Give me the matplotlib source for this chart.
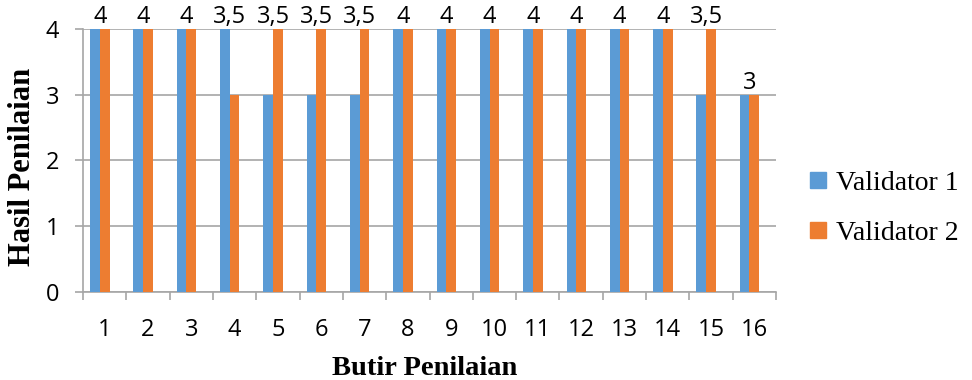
import matplotlib
matplotlib.use("Agg")
import matplotlib.pyplot as plt
from matplotlib.lines import Line2D
import numpy as np

# ---- data ----
butir = [str(i) for i in range(1, 17)]
validator_1 = [4, 4, 4, 4, 3, 3, 3, 4, 4, 4, 4, 4, 4, 4, 3, 3]
validator_2 = [4, 4, 4, 3, 4, 4, 4, 4, 4, 4, 4, 4, 4, 4, 4, 3]
rata_rata = [4, 4, 4, 3.5, 3.5, 3.5, 3.5, 4, 4, 4, 4, 4, 4, 4, 3.5, 3]
series_names = ["Validator 1", "Validator 2"]
y_ticks = [0, 1, 2, 3, 4]

BLUE = "#5B9BD5"
ORANGE = "#ED7D31"
GRID = "#A6A6A6"
NUM_FONT = ["Open Sans", "DejaVu Sans"]
SERIF = ["Liberation Serif", "DejaVu Serif"]
NUM_SIZE = 17

fig = plt.figure(figsize=(9.72, 3.80), dpi=100)
ax = fig.add_axes([83 / 972, 1 - 292 / 380, (776 - 83) / 972, (292 - 29) / 380])

x = np.arange(1, len(butir) + 1)
w = 0.224
ax.bar(x - w, validator_1, width=w, color=BLUE, edgecolor="none", zorder=3)
ax.bar(x, validator_2, width=w, color=ORANGE, edgecolor="none", zorder=3)

# data labels (average) above the pair
for xi, a, b, avg in zip(x, validator_1, validator_2, rata_rata):
    txt = f"{avg:g}".replace(".", ",")
    ax.text(xi - w / 2, max(a, b), txt, ha="center", va="bottom",
            fontsize=NUM_SIZE, family=NUM_FONT, color="black", zorder=4,
            clip_on=False)

ax.set_xlim(0.5, len(butir) + 0.5)
ax.set_ylim(0, 4)
ax.set_yticks(y_ticks)
ax.set_yticklabels([str(t) for t in y_ticks], family=NUM_FONT, fontsize=NUM_SIZE)
ax.yaxis.grid(True, color=GRID, linewidth=1.2, zorder=0)
ax.set_axisbelow(True)

ax.set_xticks(x)
ax.set_xticklabels(butir, family=NUM_FONT, fontsize=NUM_SIZE)
ax.set_xticks(np.arange(0.5, len(butir) + 1.0, 1.0), minor=True)
ax.tick_params(axis="x", which="major", length=0, pad=19)
ax.tick_params(axis="x", which="minor", length=6, width=1.2, color=GRID, direction="out")
ax.tick_params(axis="y", length=6, width=1.2, color=GRID, pad=11)

for s in ["top", "right"]:
    ax.spines[s].set_visible(False)
for s in ["left", "bottom"]:
    ax.spines[s].set_color(GRID)
    ax.spines[s].set_linewidth(1.2)

fig.text(425 / 972, 1 - 375 / 380, "Butir Penilaian", ha="center", va="baseline",
         fontsize=20.5, fontweight="bold", family=SERIF)
fig.text(22.5 / 972, 1 - 167 / 380, "Hasil Penilaian", ha="center", va="center",
         rotation=90, fontsize=22, fontweight="bold", family=SERIF)

handles = [Line2D([], [], marker="s", linestyle="none", markersize=11,
                  markerfacecolor=c, markeredgecolor=c) for c in (BLUE, ORANGE)]
fig.legend(handles, series_names, loc="center left",
           bbox_to_anchor=(808 / 972, 1 - 208 / 380), frameon=False,
           prop={"family": SERIF, "size": 20}, handlelength=0.7,
           handletextpad=0.3, labelspacing=0.9, borderpad=0, borderaxespad=0)

fig.savefig("out.png", dpi=100)
